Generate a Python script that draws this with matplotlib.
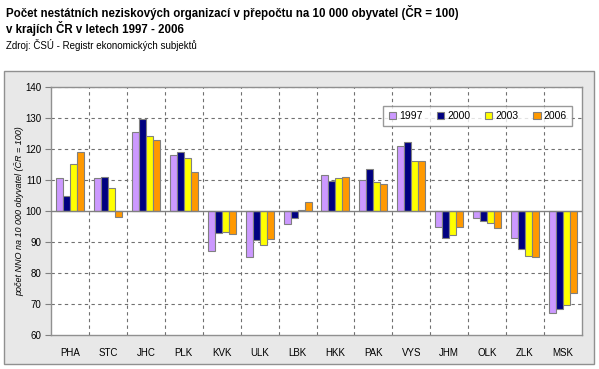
import matplotlib.pyplot as plt
import numpy as np
from matplotlib.patches import Rectangle

plt.rcParams['font.family'] = ['Liberation Sans', 'DejaVu Sans']

regions = ["PHA", "STC", "JHC", "PLK", "KVK", "ULK", "LBK",
           "HKK", "PAK", "VYS", "JHM", "OLK", "ZLK", "MSK"]
years = ["1997", "2000", "2003", "2006"]

v1997 = [110.7, 110.7, 125.5, 118.1, 87.2, 85.3, 95.7, 111.6, 110.1, 121.0, 94.9, 97.9, 91.4, 67.0]
v2000 = [104.9, 111.0, 129.8, 119.0, 92.8, 90.8, 97.9, 109.7, 113.6, 122.3, 91.4, 96.9, 87.9, 68.3]
v2003 = [115.2, 107.4, 124.2, 117.1, 93.3, 89.1, 100.3, 110.7, 109.4, 116.2, 92.1, 96.0, 85.6, 69.8]
v2006 = [119.0, 98.1, 122.9, 112.6, 92.7, 91.1, 103.0, 111.0, 108.7, 116.2, 94.9, 94.6, 85.3, 73.4]

colors = ["#CC99FF", "#000080", "#FFFF00", "#FF9900"]

W, H = 599, 369
fig = plt.figure(figsize=(W / 100, H / 100), dpi=100)
fig.patch.set_facecolor("white")

# grey chart panel
fig.patches.append(Rectangle((4 / W, 1 - 364 / H), 590 / W, 293 / H,
                             transform=fig.transFigure, facecolor="#E8E8E8",
                             edgecolor="#909090", linewidth=1, zorder=0))

fig.text(6 / W, 1 - 12 / H, "Počet nestátních neziskových organizací v přepočtu na 10 000 obyvatel (ČR = 100)",
         fontsize=8.3, fontweight="bold", va="center", ha="left")
fig.text(6 / W, 1 - 29 / H, "v krajích ČR v letech 1997 - 2006",
         fontsize=8.3, fontweight="bold", va="center", ha="left")
fig.text(6 / W, 1 - 45 / H, "Zdroj: ČSÚ - Registr ekonomických subjektů",
         fontsize=7, va="center", ha="left")

ax = fig.add_axes([51 / W, 1 - 335 / H, 531 / W, 248 / H])
ax.set_zorder(2)
ax.set_facecolor("white")

x = np.arange(len(regions))
w = 0.185
for i, (vals, c, yr) in enumerate(zip([v1997, v2000, v2003, v2006], colors, years)):
    vals = np.array(vals)
    ax.bar(x + (i - 1.5) * w, vals - 100, bottom=100, width=w, color=c,
           edgecolor="#808080", linewidth=0.8, label=yr, zorder=3)

ax.set_xlim(-0.5, len(regions) - 0.5)
ax.set_ylim(60, 140)
ax.set_yticks(range(60, 141, 10))
ax.set_xticks(x)
ax.set_xticklabels(regions, fontsize=7)
ax.tick_params(axis="x", length=0, pad=9)
ax.tick_params(axis="y", labelsize=7, length=4, color="#808080", pad=3)

for yv in range(70, 141, 10):
    if yv != 100:
        ax.axhline(yv, color="#707070", linestyle=(0, (3, 3)), linewidth=0.8, zorder=1)
for xv in np.arange(0.5, len(regions) - 0.5, 1):
    ax.axvline(xv, color="#707070", linestyle=(0, (3, 3)), linewidth=0.8, zorder=1)
ax.axhline(100, color="#808080", linewidth=1, zorder=4)

for s in ax.spines.values():
    s.set_color("#909090")
    s.set_linewidth(1)

ax.set_ylabel("počet NNO na 10 000 obyvatel (ČR = 100)", fontsize=6.5,
              style="italic")
ax.yaxis.set_label_coords(-0.05, 0.5)

leg = ax.legend(loc="upper right", bbox_to_anchor=(572 / W, 1 - 106 / H),
                bbox_transform=fig.transFigure, ncol=4, fontsize=7.5,
                frameon=True, fancybox=False, handlelength=0.7, handleheight=0.7,
                handletextpad=0.3, columnspacing=1.4, borderpad=0.5,
                borderaxespad=0)
leg.get_frame().set_edgecolor("#808080")
leg.get_frame().set_linewidth(1)
leg.set_zorder(10)

fig.savefig("out.png", dpi=100)
